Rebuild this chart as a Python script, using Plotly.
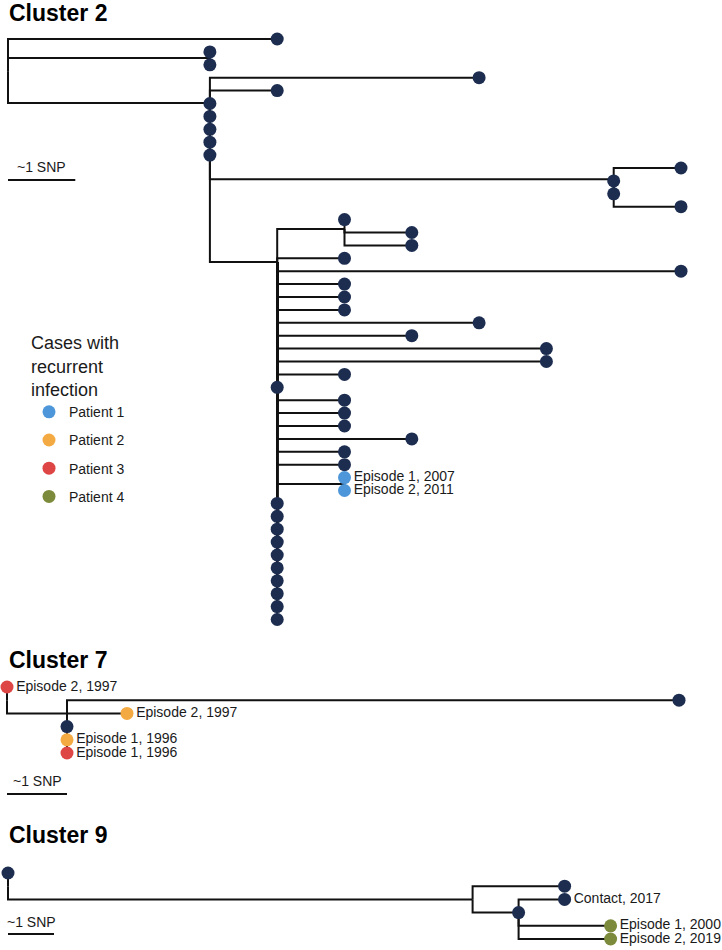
import plotly.graph_objects as go

W, H = 722, 950
FONT = "Arial, Liberation Sans, Helvetica, sans-serif"
NAVY = "#1c2d50"
LINE = "#111111"

PATIENTS = ["Patient 1", "Patient 2", "Patient 3", "Patient 4"]
PATIENT_COLORS = ["#4d96d9", "#f4aa42", "#de4545", "#7b8b3b"]

# ---------------- Cluster 2 (branch lengths in SNPs, rows = tip order) ----------------
c2_int_name = ["root", "n1", "A", "B", "C", "D", "E"]
c2_int_parent = [None, "root", "root", "A", "A", "C", "C"]
c2_int_len = [0, 3, 3, 6, 1, 1, 1]
c2_int_row = [2.5, 1.47, 4.96, 10.88, 17.29, 14.73, 34.5]

c2_tip_parent = (["root", "n1", "n1"] + ["A"] * 7 + ["B"] * 4 + ["D"] * 3
                 + ["C"] * 17 + ["E", "E"] + ["C"] * 10)
c2_tip_len = ([4, 0, 0, 4, 1, 0, 0, 0, 0, 0, 1, 0, 0, 1, 0, 1, 1,
               1, 6, 1, 1, 1, 3, 2, 4, 4, 1, 0, 1, 1, 1, 2, 1, 1, 0, 0]
              + [0] * 10)
c2_tip_row = list(range(46))
c2_tip_patient = [""] * 34 + ["Patient 1", "Patient 1"] + [""] * 10
c2_tip_label = [""] * 34 + ["Episode 1, 2007", "Episode 2, 2011"] + [""] * 10

# ---------------- Cluster 7 ----------------
c7_int_name = ["root", "H"]
c7_int_parent = [None, "root"]
c7_int_len = [0, 1]
c7_int_row = [1, 2]

c7_tip_parent = ["root", "H", "H", "H", "H", "H"]
c7_tip_len = [0, 10.2, 1, 0, 0, 0]
c7_tip_row = [0, 1, 2, 3, 4, 5]
c7_tip_patient = ["Patient 3", "", "Patient 2", "", "Patient 2", "Patient 3"]
c7_tip_label = ["Episode 2, 1997", "", "Episode 2, 1997", "", "Episode 1, 1996", "Episode 1, 1996"]

# ---------------- Cluster 9 ----------------
c9_int_name = ["root", "F", "G"]
c9_int_parent = [None, "root", "F"]
c9_int_len = [0, 10.1, 1]
c9_int_row = [1, 2, 3]

c9_tip_parent = ["root", "F", "G", "G", "G", "G"]
c9_tip_len = [0, 2, 1, 0, 2, 2]
c9_tip_row = [0, 1, 2, 3, 4, 5]
c9_tip_patient = ["", "", "", "", "Patient 4", "Patient 4"]
c9_tip_label = ["", "", "Contact, 2017", "", "Episode 1, 2000", "Episode 2, 2019"]

# layout of each panel: (x of root px, px per SNP, y of row 0 px, px per row, domain top px, domain bottom px)
PANELS = [
    dict(title="Cluster 2", x0=8, sx=67.3, y0=39, sy=12.9, top=26, bottom=632, bar_y=180, bar_text_y=167, title_y=13),
    dict(title="Cluster 7", x0=7, sx=60.0, y0=687, sy=13.2, top=672, bottom=770, bar_y=794, bar_text_y=781, title_y=660),
    dict(title="Cluster 9", x0=8, sx=46.0, y0=873, sy=13.2, top=860, bottom=946, bar_y=934, bar_text_y=922, title_y=835),
]

TREES = [
    (c2_int_name, c2_int_parent, c2_int_len, c2_int_row, c2_tip_parent, c2_tip_len, c2_tip_row, c2_tip_patient, c2_tip_label),
    (c7_int_name, c7_int_parent, c7_int_len, c7_int_row, c7_tip_parent, c7_tip_len, c7_tip_row, c7_tip_patient, c7_tip_label),
    (c9_int_name, c9_int_parent, c9_int_len, c9_int_row, c9_tip_parent, c9_tip_len, c9_tip_row, c9_tip_patient, c9_tip_label),
]

fig = go.Figure()
shapes, annotations = [], []
layout_axes = {}

for k, (panel, tree) in enumerate(zip(PANELS, TREES)):
    (int_name, int_parent, int_len, int_row, tip_parent, tip_len, tip_row, tip_patient, tip_label) = tree
    sfx = "" if k == 0 else str(k + 1)
    xa, ya = "x" + sfx, "y" + sfx

    # positions of internal nodes
    pos = {}
    for name, par, ln, row in zip(int_name, int_parent, int_len, int_row):
        px = 0 if par is None else pos[par][0]
        pos[name] = (px + ln, row)

    # elbow branches
    lx, ly = [], []
    for name, par in zip(int_name, int_parent):
        if par is None:
            continue
        (px, py), (x, y) = pos[par], pos[name]
        lx += [px, px, x, None]
        ly += [py, y, y, None]
    tips_x = []
    for par, ln, row in zip(tip_parent, tip_len, tip_row):
        px, py = pos[par]
        x = px + ln
        tips_x.append(x)
        lx += [px, px, x, None]
        ly += [py, row, row, None]

    fig.add_trace(go.Scatter(x=lx, y=ly, mode="lines", xaxis=xa, yaxis=ya,
                             line=dict(color=LINE, width=2), hoverinfo="skip",
                             showlegend=False, cliponaxis=False))

    # navy tips
    nx = [x for x, p in zip(tips_x, tip_patient) if p == ""]
    ny = [r for r, p in zip(tip_row, tip_patient) if p == ""]
    fig.add_trace(go.Scatter(x=nx, y=ny, mode="markers", xaxis=xa, yaxis=ya,
                             marker=dict(color=NAVY, size=13, line=dict(width=0)),
                             showlegend=False, cliponaxis=False, hoverinfo="skip"))

    # patient tips
    for pname, pcol in zip(PATIENTS, PATIENT_COLORS):
        px_ = [x for x, p in zip(tips_x, tip_patient) if p == pname]
        py_ = [r for r, p in zip(tip_row, tip_patient) if p == pname]
        if px_:
            fig.add_trace(go.Scatter(x=px_, y=py_, mode="markers", xaxis=xa, yaxis=ya,
                                     name=pname, legendrank=PATIENTS.index(pname) + 1,
                                     legendgroup=pname,
                                     marker=dict(color=pcol, size=13, line=dict(width=0)),
                                     cliponaxis=False, hoverinfo="skip"))

    # labels
    tx = [x for x, t in zip(tips_x, tip_label) if t]
    ty = [r for r, t in zip(tip_row, tip_label) if t]
    tt = [t for t in tip_label if t]
    fig.add_trace(go.Scatter(x=tx, y=ty, text=tt, mode="markers+text", textposition="middle right",
                             xaxis=xa, yaxis=ya, marker=dict(size=13, color="rgba(0,0,0,0)"),
                             textfont=dict(size=14, color="#1a1a1a", family=FONT),
                             showlegend=False, cliponaxis=False, hoverinfo="skip"))

    # axes
    x0, sx, y0, sy = panel["x0"], panel["sx"], panel["y0"], panel["sy"]
    top, bottom = panel["top"], panel["bottom"]
    axcommon = dict(visible=False, showgrid=False, zeroline=False, fixedrange=True)
    layout_axes["xaxis" + sfx] = dict(domain=[0, 1], range=[-x0 / sx, (W - x0) / sx], anchor=ya, **axcommon)
    layout_axes["yaxis" + sfx] = dict(domain=[1 - bottom / H, 1 - top / H],
                                      range=[(bottom - y0) / sy, (top - y0) / sy], anchor=xa, **axcommon)

    # scale bar (1 SNP)
    shapes.append(dict(type="line", xref=xa, x0=0, x1=1, yref="paper",
                       y0=1 - panel["bar_y"] / H, y1=1 - panel["bar_y"] / H,
                       line=dict(color=LINE, width=2)))
    annotations.append(dict(text="~1 SNP", xref=xa, x=0.5, xanchor="center", yref="paper",
                            y=1 - panel["bar_text_y"] / H, yanchor="middle", showarrow=False,
                            font=dict(size=14, color="#1a1a1a", family=FONT)))
    # panel title
    annotations.append(dict(text="<b>" + panel["title"] + "</b>", xref="paper", x=7 / W, xanchor="left",
                            yref="paper", y=1 - panel["title_y"] / H, yanchor="middle", showarrow=False,
                            font=dict(size=23, color="#000000", family=FONT)))

fig.update_layout(
    width=W, height=H,
    margin=dict(l=0, r=0, t=0, b=0),
    paper_bgcolor="white", plot_bgcolor="rgba(0,0,0,0)",
    font=dict(family=FONT, color="#1a1a1a"),
    shapes=shapes, annotations=annotations,
    legend=dict(title=dict(text="Cases with<br>recurrent<br>infection", font=dict(size=18)),
                font=dict(size=14), x=29 / W, xanchor="left", y=1 - 326 / H, yanchor="top",
                tracegroupgap=7, bgcolor="rgba(0,0,0,0)", itemclick=False, itemdoubleclick=False),
    showlegend=True,
    **layout_axes,
)

fig.write_html("out.html", config={"displayModeBar": False},
               post_script="document.body.style.margin='0';document.body.style.padding='0';")
